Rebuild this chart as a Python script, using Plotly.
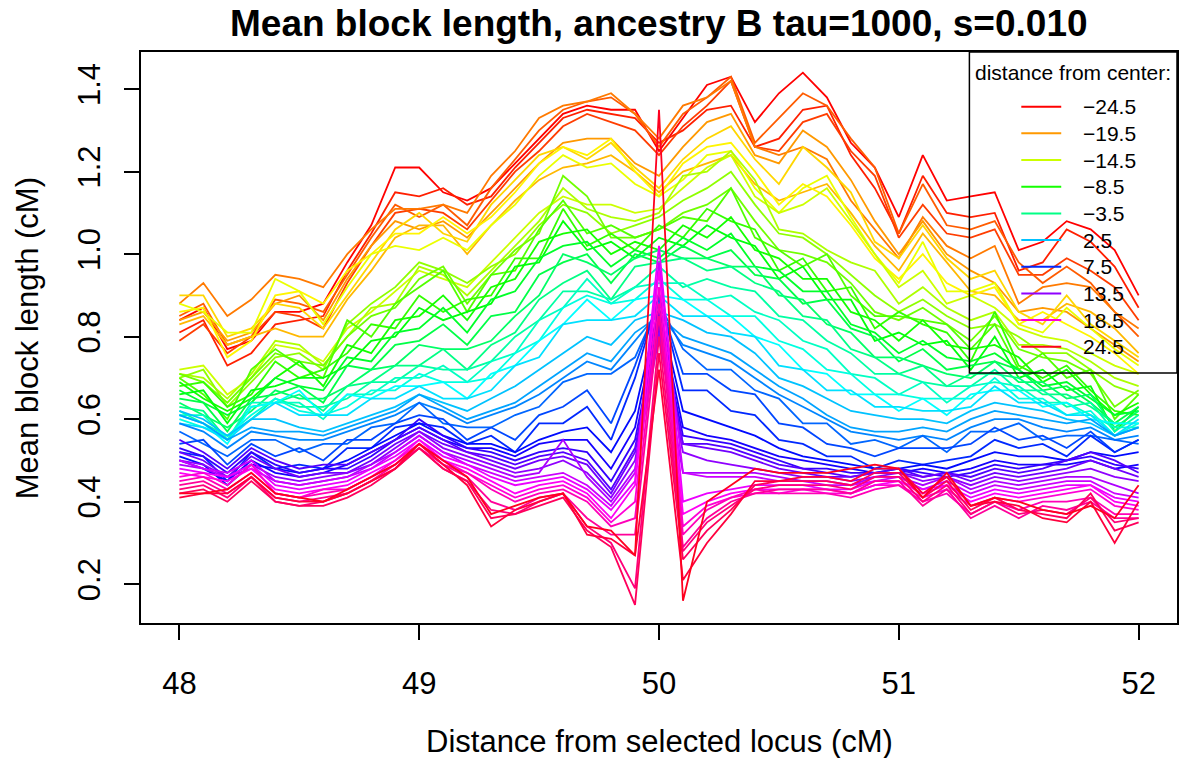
import colorsys
import plotly.graph_objects as go

# ---------------- data ----------------
x_positions = [48.0, 48.1, 48.2, 48.3, 48.4, 48.5, 48.6, 48.7, 48.8, 48.9,
               49.0, 49.1, 49.2, 49.3, 49.4, 49.5, 49.6, 49.7, 49.8, 49.9,
               50.0, 50.1, 50.2, 50.3, 50.4, 50.5, 50.6, 50.7, 50.8, 50.9,
               51.0, 51.1, 51.2, 51.3, 51.4, 51.5, 51.6, 51.7, 51.8, 51.9, 52.0]

distances = [-24.5, -23.5, -22.5, -21.5, -20.5, -19.5, -18.5, -17.5, -16.5, -15.5,
             -14.5, -13.5, -12.5, -11.5, -10.5, -9.5, -8.5, -7.5, -6.5, -5.5,
             -4.5, -3.5, -2.5, -1.5, -0.5, 0.5, 1.5, 2.5, 3.5, 4.5,
             5.5, 6.5, 7.5, 8.5, 9.5, 10.5, 11.5, 12.5, 13.5, 14.5,
             15.5, 16.5, 17.5, 18.5, 19.5, 20.5, 21.5, 22.5, 23.5, 24.5]

block_length = [
 [0.84,0.87,0.77,0.79,0.86,0.86,0.88,0.98,1.07,1.21, 1.21,1.15,1.13,1.16,1.22,1.28,1.34,1.36,1.35,1.35, 1.25,1.33,1.41,1.43,1.32,1.39,1.44,1.38,1.27,1.21, 1.09,1.24,1.13,1.14,1.15,1.01,1.03,1.08,1.06,1.01,0.90],
 [0.81,0.84,0.73,0.76,0.83,0.84,0.85,0.96,1.05,1.15, 1.14,1.16,1.12,1.14,1.21,1.27,1.33,1.35,1.34,1.33, 1.27,1.30,1.35,1.36,1.26,1.28,1.35,1.36,1.24,1.16, 1.05,1.19,1.10,1.09,1.10,0.96,0.98,1.06,1.03,0.97,0.87],
 [0.79,0.83,0.76,0.80,0.86,0.85,0.82,0.93,1.02,1.10, 1.11,1.10,1.06,1.13,1.20,1.25,1.31,1.34,1.32,1.30, 1.24,1.31,1.36,1.42,1.26,1.25,1.32,1.34,1.25,1.19, 1.04,1.12,1.05,1.04,1.06,0.95,0.95,0.99,0.96,0.92,0.84],
 [0.85,0.88,0.78,0.80,0.89,0.88,0.86,0.95,1.04,1.12, 1.09,1.12,1.07,1.16,1.23,1.30,1.35,1.37,1.38,1.34, 1.26,1.34,1.38,1.43,1.27,1.33,1.39,1.36,1.28,1.21, 1.05,1.17,1.07,1.06,1.08,0.98,0.93,0.97,0.93,0.86,0.80],
 [0.88,0.93,0.85,0.89,0.95,0.94,0.92,1.00,1.06,1.11, 1.11,1.12,1.10,1.19,1.25,1.33,1.36,1.37,1.39,1.34, 1.28,1.36,1.38,1.42,1.26,1.24,1.26,1.23,1.13,1.06, 0.99,1.09,1.02,0.99,1.02,0.88,0.92,0.93,0.92,0.86,0.82],
 [0.84,0.86,0.79,0.81,0.88,0.90,0.84,0.94,1.02,1.08, 1.06,1.08,1.04,1.10,1.16,1.22,1.27,1.28,1.28,1.22, 1.19,1.26,1.32,1.34,1.24,1.22,1.30,1.26,1.18,1.08, 1.00,1.08,1.00,0.96,0.93,0.86,0.87,0.86,0.82,0.78,0.74],
 [0.83,0.85,0.78,0.80,0.82,0.80,0.80,0.89,0.96,1.04, 1.07,1.07,1.00,1.07,1.13,1.18,1.21,1.22,1.24,1.20, 1.15,1.20,1.22,1.24,1.17,1.13,1.15,1.17,1.10,1.02, 0.96,1.05,0.98,0.91,0.90,0.84,0.84,0.88,0.86,0.82,0.76],
 [0.90,0.90,0.80,0.82,0.88,0.87,0.82,0.90,0.98,1.06, 1.10,1.05,1.03,1.12,1.18,1.24,1.26,1.23,1.27,1.21, 1.16,1.23,1.28,1.31,1.23,1.17,1.26,1.21,1.15,1.03, 0.99,1.07,0.99,0.94,0.96,0.86,0.83,0.90,0.83,0.79,0.75],
 [0.86,0.87,0.75,0.79,0.90,0.91,0.88,0.96,1.00,1.05, 1.05,1.09,1.05,1.09,1.15,1.22,1.26,1.24,1.28,1.20, 1.14,1.22,1.26,1.27,1.20,1.12,1.17,1.14,1.07,0.99, 0.94,1.00,0.93,0.90,0.92,0.83,0.86,0.83,0.80,0.76,0.71],
 [0.88,0.86,0.81,0.81,0.94,0.91,0.83,0.92,1.00,1.02, 1.01,1.04,1.01,1.07,1.12,1.19,1.24,1.21,1.22,1.17, 1.14,1.18,1.24,1.25,1.16,1.10,1.16,1.19,1.09,1.00, 0.93,1.03,0.91,0.91,0.93,0.83,0.81,0.87,0.82,0.77,0.73],
 [0.72,0.73,0.66,0.70,0.78,0.77,0.74,0.82,0.86,0.91, 0.96,0.94,0.92,0.98,1.04,1.10,1.14,1.12,1.12,1.10, 1.11,1.16,1.21,1.24,1.14,1.10,1.12,1.16,1.08,1.00, 0.92,0.96,0.88,0.90,0.87,0.82,0.80,0.79,0.76,0.73,0.71],
 [0.71,0.70,0.65,0.71,0.79,0.78,0.73,0.80,0.87,0.88, 0.97,0.95,0.90,0.96,1.02,1.08,1.16,1.11,1.09,1.08, 1.10,1.19,1.20,1.25,1.18,1.06,1.05,1.01,0.98,0.96, 0.88,0.92,0.87,0.84,0.86,0.78,0.78,0.77,0.74,0.70,0.68],
 [0.70,0.72,0.63,0.69,0.75,0.76,0.72,0.83,0.88,0.92, 0.98,0.96,0.93,0.97,1.00,1.07,1.12,1.10,1.05,1.07, 1.09,1.13,1.16,1.20,1.12,1.05,1.04,1.00,0.95,0.90, 0.86,0.89,0.85,0.82,0.83,0.80,0.76,0.76,0.72,0.68,0.66],
 [0.71,0.69,0.64,0.70,0.76,0.74,0.73,0.80,0.85,0.87, 0.94,0.97,0.88,0.95,1.01,1.05,1.19,1.14,1.04,1.04, 1.06,1.10,1.12,1.16,1.08,1.01,1.00,0.98,0.93,0.86, 0.84,0.87,0.83,0.79,0.85,0.77,0.75,0.74,0.71,0.63,0.67],
 [0.70,0.66,0.60,0.72,0.77,0.73,0.70,0.84,0.80,0.88, 0.92,0.96,0.86,0.95,0.96,1.06,1.13,1.05,1.07,1.04, 1.06,1.09,1.08,1.16,1.04,1.01,0.97,1.00,0.90,0.85, 0.85,0.84,0.83,0.77,0.83,0.72,0.76,0.70,0.72,0.60,0.66],
 [0.68,0.69,0.63,0.66,0.74,0.70,0.72,0.76,0.83,0.82, 0.90,0.86,0.89,0.90,0.99,0.99,1.11,1.02,1.05,1.01, 1.07,1.04,1.11,1.08,1.06,0.96,0.99,0.91,0.92,0.82, 0.86,0.83,0.81,0.74,0.86,0.73,0.70,0.73,0.67,0.62,0.61],
 [0.69,0.65,0.62,0.65,0.70,0.74,0.68,0.78,0.76,0.84, 0.85,0.90,0.84,0.92,0.94,1.03,1.05,1.06,1.00,1.03, 1.01,1.07,1.04,1.09,1.01,0.99,0.94,0.94,0.86,0.84, 0.79,0.84,0.78,0.77,0.78,0.75,0.69,0.72,0.66,0.61,0.64],
 [0.66,0.67,0.59,0.67,0.68,0.70,0.70,0.73,0.79,0.80, 0.87,0.84,0.86,0.88,0.97,0.98,1.08,1.01,1.03,0.99, 1.04,1.02,1.07,1.04,1.02,0.94,0.97,0.89,0.89,0.79, 0.81,0.78,0.79,0.72,0.80,0.70,0.72,0.67,0.68,0.57,0.63],
 [0.67,0.64,0.61,0.64,0.70,0.68,0.67,0.75,0.74,0.81, 0.82,0.87,0.81,0.89,0.91,0.99,1.02,1.03,0.97,1.01, 0.99,1.04,1.01,1.05,0.97,0.96,0.91,0.91,0.83,0.81, 0.76,0.79,0.75,0.74,0.76,0.72,0.68,0.69,0.65,0.61,0.62],
 [0.65,0.64,0.57,0.65,0.66,0.68,0.64,0.73,0.72,0.78, 0.79,0.83,0.78,0.85,0.86,0.95,0.98,1.00,0.93,1.00, 0.98,1.02,0.99,1.01,0.95,0.94,0.88,0.89,0.82,0.80, 0.74,0.77,0.72,0.73,0.74,0.72,0.67,0.68,0.64,0.59,0.63],
 [0.64,0.61,0.58,0.62,0.67,0.65,0.65,0.68,0.72,0.73, 0.78,0.77,0.77,0.79,0.85,0.90,1.00,0.98,0.95,0.99, 1.01,0.99,0.99,0.97,0.97,0.90,0.89,0.83,0.81,0.75, 0.75,0.73,0.71,0.70,0.74,0.69,0.69,0.65,0.66,0.58,0.62],
 [0.63,0.62,0.55,0.63,0.64,0.66,0.62,0.68,0.69,0.73, 0.73,0.77,0.72,0.78,0.81,0.89,0.93,0.96,0.89,0.97, 0.98,0.99,0.96,0.97,0.93,0.91,0.85,0.84,0.77,0.75, 0.71,0.73,0.68,0.71,0.71,0.70,0.66,0.66,0.63,0.59,0.59],
 [0.62,0.59,0.56,0.60,0.65,0.63,0.63,0.65,0.69,0.69, 0.73,0.72,0.72,0.74,0.80,0.84,0.91,0.91,0.89,0.92, 0.97,0.92,0.94,0.92,0.91,0.85,0.84,0.79,0.76,0.71, 0.71,0.69,0.68,0.68,0.72,0.67,0.67,0.63,0.64,0.57,0.61],
 [0.61,0.61,0.55,0.64,0.64,0.64,0.60,0.66,0.66,0.70, 0.70,0.73,0.69,0.74,0.76,0.84,0.87,0.94,0.88,0.92, 0.93,0.93,0.89,0.90,0.86,0.84,0.79,0.77,0.71,0.70, 0.66,0.69,0.64,0.68,0.69,0.68,0.64,0.64,0.61,0.58,0.58],
 [0.60,0.58,0.56,0.61,0.65,0.62,0.61,0.63,0.67,0.67, 0.71,0.69,0.69,0.70,0.76,0.79,0.87,0.90,0.88,0.89, 0.94,0.89,0.89,0.85,0.85,0.79,0.77,0.72,0.71,0.66, 0.66,0.65,0.65,0.65,0.70,0.65,0.65,0.61,0.62,0.56,0.59],
 [0.61,0.59,0.54,0.63,0.64,0.67,0.61,0.66,0.65,0.68, 0.68,0.69,0.65,0.71,0.73,0.79,0.83,0.89,0.84,0.89, 0.90,0.89,0.85,0.85,0.80,0.78,0.72,0.71,0.66,0.66, 0.62,0.65,0.61,0.66,0.67,0.67,0.63,0.64,0.60,0.59,0.59],
 [0.59,0.58,0.55,0.60,0.64,0.61,0.61,0.61,0.65,0.65, 0.68,0.65,0.65,0.67,0.73,0.75,0.83,0.84,0.84,0.85, 0.90,0.85,0.85,0.81,0.80,0.73,0.72,0.67,0.67,0.63, 0.63,0.62,0.62,0.63,0.68,0.64,0.64,0.61,0.61,0.56,0.60],
 [0.62,0.60,0.56,0.60,0.60,0.58,0.57,0.59,0.61,0.63, 0.66,0.64,0.62,0.65,0.68,0.72,0.76,0.80,0.78,0.84, 0.86,0.84,0.81,0.80,0.76,0.70,0.68,0.65,0.62,0.61, 0.60,0.60,0.59,0.62,0.64,0.63,0.62,0.60,0.59,0.56,0.58],
 [0.61,0.59,0.55,0.58,0.57,0.57,0.56,0.58,0.60,0.62, 0.66,0.63,0.60,0.62,0.64,0.68,0.72,0.76,0.74,0.81, 0.85,0.80,0.78,0.76,0.72,0.68,0.65,0.61,0.58,0.57, 0.57,0.58,0.57,0.60,0.62,0.61,0.60,0.59,0.60,0.56,0.58],
 [0.59,0.57,0.53,0.57,0.56,0.55,0.55,0.57,0.59,0.61, 0.64,0.62,0.59,0.61,0.63,0.66,0.70,0.74,0.72,0.79, 0.86,0.78,0.76,0.74,0.70,0.66,0.63,0.60,0.57,0.56, 0.55,0.56,0.55,0.58,0.60,0.60,0.58,0.57,0.58,0.55,0.56],
 [0.57,0.54,0.51,0.55,0.55,0.52,0.54,0.54,0.58,0.59, 0.64,0.59,0.58,0.58,0.61,0.63,0.69,0.71,0.71,0.75, 0.88,0.77,0.72,0.72,0.67,0.65,0.59,0.59,0.54,0.55, 0.53,0.56,0.52,0.57,0.57,0.59,0.55,0.56,0.56,0.55,0.54],
 [0.54,0.55,0.49,0.54,0.51,0.53,0.50,0.55,0.55,0.59, 0.61,0.60,0.55,0.58,0.55,0.61,0.63,0.67,0.59,0.73, 0.89,0.71,0.71,0.67,0.66,0.59,0.58,0.54,0.53,0.51, 0.53,0.53,0.53,0.54,0.58,0.55,0.56,0.53,0.57,0.52,0.55],
 [0.52,0.51,0.45,0.52,0.48,0.49,0.48,0.53,0.53,0.58, 0.59,0.58,0.54,0.56,0.52,0.59,0.59,0.63,0.55,0.70, 0.90,0.67,0.67,0.62,0.61,0.55,0.54,0.51,0.51,0.48, 0.50,0.49,0.50,0.51,0.55,0.53,0.54,0.51,0.56,0.52,0.55],
 [0.51,0.49,0.44,0.49,0.48,0.47,0.48,0.50,0.53,0.56, 0.59,0.56,0.54,0.54,0.52,0.55,0.57,0.58,0.52,0.62, 0.87,0.62,0.60,0.58,0.56,0.53,0.51,0.50,0.49,0.48, 0.48,0.49,0.48,0.50,0.52,0.51,0.51,0.50,0.52,0.51,0.52],
 [0.50,0.48,0.45,0.50,0.47,0.46,0.47,0.49,0.52,0.55, 0.58,0.55,0.53,0.53,0.51,0.54,0.55,0.55,0.48,0.58, 0.86,0.58,0.56,0.55,0.53,0.51,0.50,0.49,0.48,0.47, 0.47,0.48,0.47,0.48,0.50,0.49,0.49,0.49,0.50,0.48,0.49],
 [0.53,0.51,0.47,0.52,0.49,0.47,0.48,0.48,0.51,0.55, 0.60,0.56,0.53,0.52,0.50,0.52,0.53,0.52,0.45,0.55, 0.84,0.56,0.55,0.54,0.52,0.50,0.48,0.48,0.47,0.47, 0.48,0.47,0.46,0.47,0.49,0.48,0.49,0.50,0.51,0.49,0.48],
 [0.55,0.52,0.48,0.53,0.50,0.48,0.49,0.49,0.52,0.55, 0.58,0.55,0.52,0.51,0.49,0.51,0.52,0.50,0.43,0.53, 0.83,0.54,0.54,0.53,0.51,0.49,0.48,0.47,0.46,0.47, 0.48,0.46,0.47,0.46,0.48,0.47,0.48,0.50,0.52,0.50,0.47],
 [0.52,0.50,0.46,0.51,0.48,0.46,0.47,0.47,0.50,0.54, 0.57,0.54,0.52,0.50,0.48,0.50,0.51,0.49,0.42,0.52, 0.82,0.54,0.53,0.52,0.50,0.48,0.47,0.46,0.46,0.47, 0.47,0.46,0.47,0.45,0.47,0.46,0.47,0.48,0.50,0.48,0.46],
 [0.50,0.49,0.46,0.49,0.46,0.45,0.46,0.47,0.49,0.53, 0.57,0.53,0.51,0.49,0.47,0.48,0.50,0.47,0.41,0.50, 0.81,0.52,0.50,0.49,0.48,0.47,0.46,0.46,0.45,0.46, 0.47,0.45,0.46,0.44,0.46,0.45,0.46,0.47,0.48,0.46,0.45],
 [0.49,0.48,0.46,0.48,0.45,0.44,0.45,0.46,0.49,0.52, 0.56,0.52,0.50,0.48,0.46,0.47,0.55,0.46,0.40,0.48, 0.80,0.47,0.47,0.47,0.47,0.46,0.45,0.45,0.44,0.46, 0.46,0.44,0.46,0.43,0.45,0.44,0.45,0.46,0.46,0.44,0.42],
 [0.50,0.48,0.47,0.50,0.45,0.44,0.45,0.46,0.48,0.52, 0.56,0.52,0.49,0.47,0.45,0.46,0.47,0.44,0.39,0.47, 0.98,0.47,0.46,0.46,0.46,0.45,0.45,0.44,0.44,0.45, 0.46,0.43,0.45,0.42,0.44,0.43,0.44,0.45,0.45,0.42,0.41],
 [0.48,0.47,0.46,0.49,0.44,0.43,0.44,0.45,0.48,0.51, 0.55,0.51,0.49,0.46,0.44,0.45,0.46,0.43,0.38,0.45, 1.02,0.40,0.42,0.43,0.44,0.44,0.44,0.43,0.43,0.45, 0.45,0.43,0.44,0.41,0.43,0.42,0.43,0.44,0.44,0.41,0.40],
 [0.47,0.46,0.45,0.48,0.43,0.42,0.43,0.44,0.47,0.50, 0.55,0.50,0.48,0.45,0.42,0.44,0.45,0.42,0.36,0.44, 0.96,0.37,0.40,0.42,0.43,0.43,0.43,0.43,0.42,0.44, 0.45,0.42,0.44,0.40,0.42,0.41,0.42,0.43,0.44,0.40,0.39],
 [0.46,0.47,0.44,0.49,0.42,0.41,0.43,0.43,0.46,0.50, 0.54,0.50,0.47,0.44,0.41,0.43,0.44,0.41,0.35,0.40, 0.92,0.34,0.39,0.41,0.42,0.42,0.43,0.42,0.42,0.44, 0.44,0.41,0.43,0.39,0.41,0.40,0.41,0.42,0.43,0.39,0.38],
 [0.45,0.46,0.43,0.47,0.42,0.41,0.42,0.43,0.46,0.49, 0.54,0.49,0.47,0.43,0.40,0.42,0.43,0.40,0.34,0.36, 0.88,0.32,0.38,0.41,0.43,0.42,0.42,0.42,0.41,0.43, 0.44,0.40,0.42,0.37,0.40,0.38,0.40,0.40,0.41,0.37,0.37],
 [0.44,0.45,0.42,0.46,0.41,0.40,0.41,0.42,0.45,0.49, 0.53,0.49,0.46,0.40,0.38,0.41,0.42,0.36,0.32,0.32, 0.85,0.29,0.36,0.40,0.42,0.43,0.43,0.43,0.42,0.45, 0.45,0.39,0.43,0.36,0.39,0.36,0.39,0.38,0.40,0.36,0.36],
 [0.43,0.44,0.41,0.46,0.40,0.39,0.40,0.42,0.45,0.48, 0.53,0.48,0.45,0.38,0.37,0.40,0.42,0.34,0.30,0.19, 0.80,0.28,0.35,0.39,0.43,0.44,0.44,0.44,0.43,0.46, 0.46,0.40,0.44,0.37,0.40,0.37,0.38,0.37,0.41,0.35,0.36],
 [0.42,0.43,0.40,0.45,0.40,0.39,0.39,0.41,0.44,0.48, 0.53,0.48,0.45,0.36,0.37,0.39,0.41,0.33,0.29,0.15, 0.76,0.26,0.33,0.38,0.44,0.45,0.45,0.45,0.44,0.47, 0.47,0.41,0.45,0.38,0.41,0.38,0.37,0.36,0.42,0.33,0.35],
 [0.41,0.42,0.42,0.46,0.41,0.40,0.40,0.42,0.45,0.48, 0.54,0.49,0.44,0.34,0.38,0.40,0.42,0.32,0.31,0.27, 0.72,0.21,0.30,0.37,0.45,0.45,0.46,0.46,0.45,0.48, 0.48,0.42,0.46,0.39,0.40,0.39,0.36,0.35,0.40,0.30,0.40],
 [0.42,0.42,0.43,0.47,0.42,0.41,0.40,0.43,0.46,0.49, 0.54,0.50,0.46,0.37,0.39,0.41,0.42,0.34,0.33,0.27, 1.35,0.16,0.40,0.44,0.48,0.47,0.47,0.47,0.48,0.49, 0.48,0.41,0.47,0.39,0.41,0.40,0.38,0.37,0.39,0.36,0.44],
]

x_ticks = [48, 49, 50, 51, 52]
x_tick_labels = ["48", "49", "50", "51", "52"]
y_ticks = [0.2, 0.4, 0.6, 0.8, 1.0, 1.2, 1.4]
y_tick_labels = ["0.2", "0.4", "0.6", "0.8", "1.0", "1.2", "1.4"]
legend_index = [0, 5, 10, 16, 21, 27, 32, 38, 43, 49]

title_text = "Mean block length, ancestry B tau=1000, s=0.010"
x_title = "Distance from selected locus (cM)"
y_title = "Mean block length (cM)"
legend_title = "distance from center:"

# ---------------- style ----------------
W, H = 1181, 758
L, R, T, B = 141, 1179, 52, 623          # plot-area pixel box
FONT = "Liberation Sans, Arial, Helvetica, sans-serif"


def rainbow(n):
    cols = []
    for i in range(n):
        r, g, b = colorsys.hsv_to_rgb(i / n, 1.0, 1.0)
        cols.append("#%02X%02X%02X" % (round(r * 255), round(g * 255), round(b * 255)))
    return cols


colors = rainbow(len(distances))


def px(xp):
    return (xp - L) / (R - L)


def py(yp):
    return (B - yp) / (B - T)


fig = go.Figure()
for i, d in enumerate(distances):
    fig.add_trace(go.Scatter(
        x=x_positions, y=block_length[i], mode="lines",
        line=dict(color=colors[i], width=1.8),
        name=str(d), showlegend=False, hoverinfo="skip"))

shapes = []
annotations = []

# legend box
shapes.append(dict(type="rect", xref="paper", yref="paper",
                   x0=px(971), x1=1.0, y0=py(373), y1=1.0,
                   line=dict(color="black", width=1.5), fillcolor="rgba(0,0,0,0)"))
annotations.append(dict(text=legend_title, xref="paper", yref="paper",
                        x=px(1075), y=py(72), xanchor="center", yanchor="middle",
                        showarrow=False, font=dict(family=FONT, size=21, color="black")))
for k, idx in enumerate(legend_index):
    yc = 106.7 + k * 26.67
    shapes.append(dict(type="line", xref="paper", yref="paper",
                       x0=px(1023), x1=px(1063), y0=py(yc), y1=py(yc),
                       line=dict(color=colors[idx], width=2)))
    lab = ("\u2212" + str(abs(distances[idx]))) if distances[idx] < 0 else str(distances[idx])
    annotations.append(dict(text=lab, xref="paper", yref="paper",
                            x=px(1083), y=py(yc), xanchor="left", yanchor="middle",
                            showarrow=False, font=dict(family=FONT, size=21, color="black")))

# titles
annotations.append(dict(text="<b>" + title_text + "</b>", xref="paper", yref="paper",
                        x=px(660), y=py(24), xanchor="center", yanchor="middle",
                        showarrow=False, font=dict(family=FONT, size=37, color="black")))
annotations.append(dict(text=x_title, xref="paper", yref="paper",
                        x=px(660), y=py(741), xanchor="center", yanchor="middle",
                        showarrow=False, font=dict(family=FONT, size=31, color="black")))
annotations.append(dict(text=y_title, xref="paper", yref="paper",
                        x=px(27), y=py(338), xanchor="center", yanchor="middle",
                        textangle=-90, showarrow=False,
                        font=dict(family=FONT, size=31, color="black")))

fig.update_layout(
    width=W, height=H,
    margin=dict(l=L, r=W - R, t=T, b=H - B, pad=0),
    paper_bgcolor="white", plot_bgcolor="white",
    font=dict(family=FONT, size=31, color="black"),
    shapes=shapes, annotations=annotations, showlegend=False,
    xaxis=dict(range=[47.84, 52.16], tickvals=x_ticks, ticktext=x_tick_labels,
               showgrid=False, zeroline=False, showline=True, mirror=True,
               linecolor="black", linewidth=1.5, ticks="outside", ticklen=15,
               tickwidth=1.5, tickcolor="black", ticklabelstandoff=17,
               tickfont=dict(family=FONT, size=31, color="black")),
    yaxis=dict(range=[0.106, 1.490], tickvals=y_ticks, ticktext=y_tick_labels,
               showgrid=False, zeroline=False, showline=True, mirror=True,
               linecolor="black", linewidth=1.5, ticks="outside", ticklen=15,
               tickwidth=1.5, tickcolor="black", tickangle=-90, ticklabelstandoff=12,
               tickfont=dict(family=FONT, size=31, color="black")),
)

fig.write_html("out.html")
